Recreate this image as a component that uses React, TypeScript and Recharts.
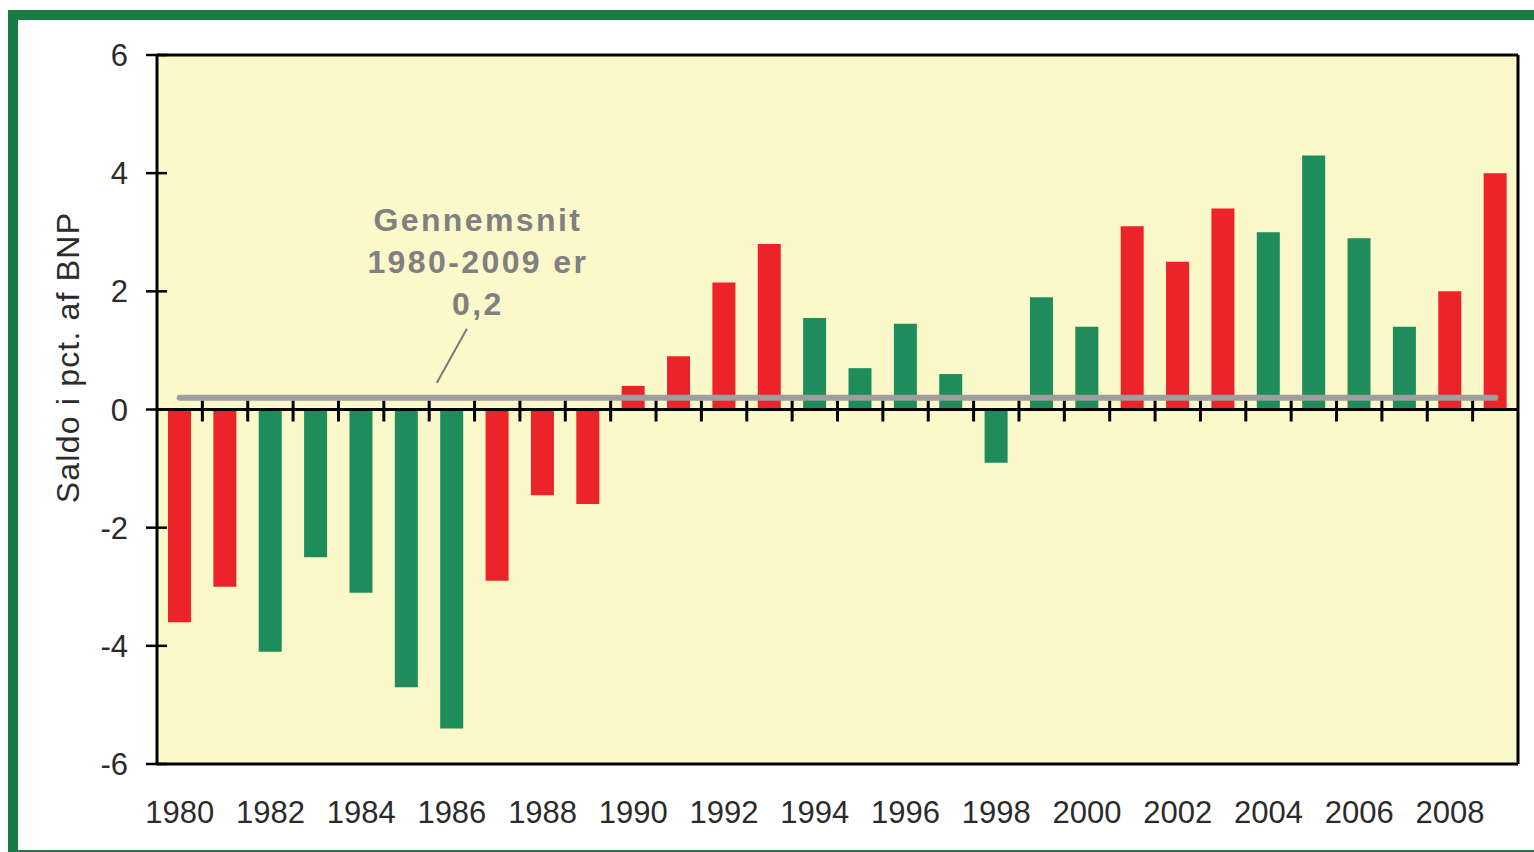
import React from 'react';
import {
  ComposedChart,
  Bar,
  Cell,
  Line,
  XAxis,
  YAxis,
  CartesianGrid,
  ReferenceLine,
  ReferenceDot,
  Label,
} from 'recharts';

const years = [
  '1980', '1981', '1982', '1983', '1984', '1985', '1986', '1987', '1988', '1989',
  '1990', '1991', '1992', '1993', '1994', '1995', '1996', '1997', '1998', '1999',
  '2000', '2001', '2002', '2003', '2004', '2005', '2006', '2007', '2008', '2009',
];

const saldo = [
  -3.6, -3.0, -4.1, -2.5, -3.1, -4.7, -5.4, -2.9, -1.45, -1.6,
  0.4, 0.9, 2.15, 2.8, 1.55, 0.7, 1.45, 0.6, -0.9, 1.9,
  1.4, 3.1, 2.5, 3.4, 3.0, 4.3, 2.9, 1.4, 2.0, 4.0,
];

const party = [
  'r', 'r', 'g', 'g', 'g', 'g', 'g', 'r', 'r', 'r',
  'r', 'r', 'r', 'r', 'g', 'g', 'g', 'g', 'g', 'g',
  'g', 'r', 'r', 'r', 'g', 'g', 'g', 'g', 'r', 'r',
];

const AVERAGE = 0.2;
const yTicks = [-6, -4, -2, 0, 2, 4, 6];
const annotationLines = ['Gennemsnit', '1980-2009 er', '0,2'];
const yLabel = 'Saldo i pct. af BNP';

const COLORS: Record<string, string> = { r: '#ec2328', g: '#1f8c5c' };

const data = years.map((year, i) => ({
  year,
  saldo: saldo[i],
  avg: AVERAGE,
  party: party[i],
}));

const FONT = '"Liberation Sans", Arial, sans-serif';
const TICK_SIZE = 11;
const TICK_MARGIN = 18;

const YTick = (props: any) => {
  const { x, y, payload } = props;
  const axisX = x + TICK_SIZE + TICK_MARGIN;
  return (
    <g>
      <line x1={axisX - TICK_SIZE} x2={axisX + 10} y1={y} y2={y} stroke="#000" strokeWidth={2.5} />
      <text x={x} y={y} dy={11} textAnchor="end" fontSize={31} fill="#2b2b2b" fontFamily={FONT}>
        {payload.value}
      </text>
    </g>
  );
};

const ZeroLine = (props: any) => {
  const { x1, x2, y1 } = props;
  const n = years.length;
  const step = (x2 - x1) / n;
  const ticks = [];
  for (let k = 1; k < n; k++) {
    const tx = x1 + step * k;
    ticks.push(<line key={k} x1={tx} x2={tx} y1={y1 - 9} y2={y1 + 12} stroke="#000" strokeWidth={3} />);
  }
  return (
    <g>
      <line x1={x1} x2={x2} y1={y1} y2={y1} stroke="#000" strokeWidth={3} />
      {ticks}
    </g>
  );
};

const Annotation = (props: any) => {
  const { viewBox } = props;
  const cx = viewBox.x + (viewBox.width || 0) / 2;
  const cy = viewBox.y + (viewBox.height || 0) / 2;
  const tx = cx + 26;
  return (
    <g>
      <line x1={cx - 15} y1={cy - 15} x2={cx + 15} y2={cy - 69} stroke="#7a7a7a" strokeWidth={2} />
      {annotationLines.map((t, i) => (
        <text
          key={i}
          x={tx}
          y={cy - 167 + i * 42}
          textAnchor="middle"
          fontSize={32}
          fontWeight="bold"
          letterSpacing={2.4}
          fill="#808080"
          fontFamily={FONT}
        >
          {t}
        </text>
      ))}
    </g>
  );
};

const YLabel = (props: any) => {
  const { viewBox } = props;
  const x = viewBox.x - 29;
  const y = viewBox.y + viewBox.height / 2 - 52;
  return (
    <text
      x={x}
      y={y}
      transform={`rotate(-90, ${x}, ${y})`}
      textAnchor="middle"
      dominantBaseline="central"
      fontSize={32}
      letterSpacing={1.2}
      fill="#2b2b2b"
      fontFamily={FONT}
    >
      {yLabel}
    </text>
  );
};

export default function App() {
  return (
    <div
      style={{
        position: 'fixed',
        left: 0,
        top: 0,
        width: 1534,
        height: 852,
        overflow: 'hidden',
        background: '#ffffff',
      }}
    >
      <div
        style={{
          position: 'absolute',
          left: 8,
          top: 10,
          width: 1560,
          height: 830,
          border: '10px solid #1a7b45',
        }}
      />
      <div style={{ position: 'absolute', left: 0, top: 0 }}>
        <ComposedChart
          width={1534}
          height={852}
          data={data}
          margin={{ top: 55, right: 16, bottom: 28, left: 97 }}
          style={{ fontFamily: FONT }}
        >
          <CartesianGrid horizontal={false} vertical={false} fill="#fbf8ca" stroke="none" />
          <XAxis
            dataKey="year"
            interval={1}
            tickLine={false}
            tickSize={0}
            tickMargin={37}
            height={60}
            axisLine={{ stroke: '#000', strokeWidth: 3 }}
            tick={{ fontSize: 31, fill: '#2b2b2b', fontFamily: FONT }}
          />
          <YAxis
            domain={[-6, 6]}
            ticks={yTicks}
            width={60}
            tickSize={TICK_SIZE}
            tickMargin={TICK_MARGIN}
            tickLine={false}
            tick={<YTick />}
            axisLine={{ stroke: '#000', strokeWidth: 3 }}
            allowDataOverflow
          >
            <Label content={<YLabel />} />
          </YAxis>
          <Bar dataKey="saldo" barSize={23} isAnimationActive={false}>
            {data.map((d, i) => (
              <Cell key={i} fill={COLORS[d.party]} />
            ))}
          </Bar>
          <ReferenceLine y={6} stroke="#000" strokeWidth={3} />
          <ReferenceLine x="2009" position="end" stroke="#000" strokeWidth={3} />
          <ReferenceLine y={0} shape={<ZeroLine />} />
          <Line
            dataKey="avg"
            stroke="#9e9e9e"
            strokeWidth={6}
            strokeLinecap="round"
            dot={false}
            activeDot={false}
            isAnimationActive={false}
          />
          <ReferenceDot x="1986" y={AVERAGE} r={0} fill="none" stroke="none" label={<Annotation />} />
        </ComposedChart>
      </div>
    </div>
  );
}
